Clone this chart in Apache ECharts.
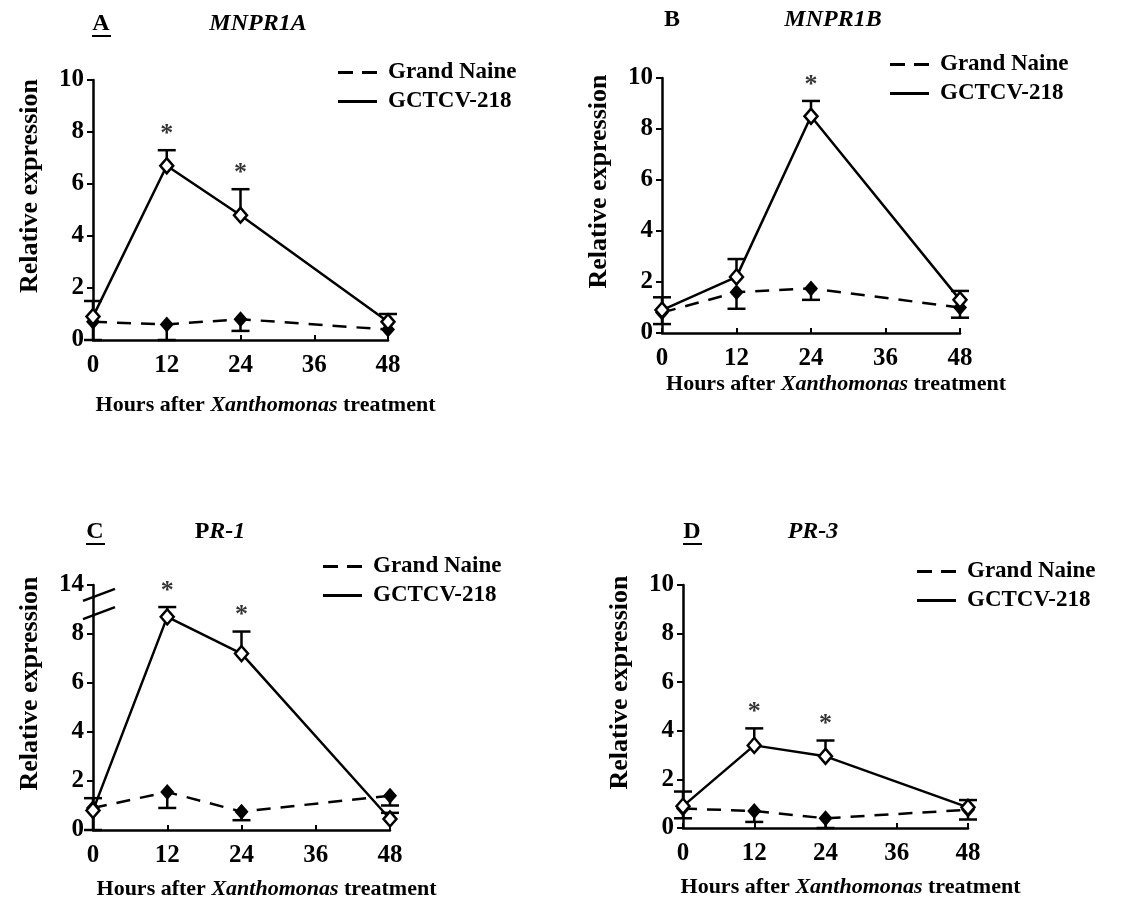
<!DOCTYPE html>
<html>
<head>
<meta charset="utf-8">
<script src="https://cdn.jsdelivr.net/npm/echarts@6/dist/echarts.min.js"></script>
<style>
html, body { margin: 0; padding: 0; background: #fff; }
#main { width: 1147px; height: 905px; }
</style>
</head>
<body>
<div id="main"></div>
<script>
// data (relative expression, hours after treatment)
var hours = [0, 12, 24, 48];

var naineA = [0.7, 0.6, 0.8, 0.4];
var naineLoA = [0, 0, 0.35, 0.4];
var gctcvA = [0.9, 6.7, 4.8, 0.7];
var gctcvHiA = [1.5, 7.3, 5.8, 1.0];
var sigA = [12, 24];

var naineB = [0.8, 1.6, 1.75, 1.0];
var naineLoB = [0.35, 0.95, 1.3, 0.6];
var gctcvB = [0.9, 2.2, 8.5, 1.3];
var gctcvHiB = [1.4, 2.9, 9.1, 1.65];
var sigB = [24];

// panel C uses a broken axis: top tick (10 on the drawn scale) reads 14
var naineC = [0.9, 1.55, 0.75, 1.4];
var naineLoC = [0, 0.9, 0.4, 1.0];
var gctcvC = [0.8, 8.7, 7.2, 0.45];
var gctcvHiC = [1.3, 9.1, 8.1, 0.7];
var sigC = [12, 24];

var naineD = [0.8, 0.7, 0.4, 0.75];
var naineLoD = [0.4, 0.25, 0, 0.35];
var gctcvD = [0.9, 3.4, 2.95, 0.85];
var gctcvHiD = [1.5, 4.1, 3.6, 1.15];
var sigD = [12, 24];

var FONT = "'Liberation Serif', 'Times New Roman', serif";

var panels = [
  { naine: naineA, lo: naineLoA, gc: gctcvA, hi: gctcvHiA, sig: sigA,
    grid: { left: 93, top: 80, width: 295, height: 260 }, xGap: 54, legend: [333, 56] },
  { naine: naineB, lo: naineLoB, gc: gctcvB, hi: gctcvHiB, sig: sigB,
    grid: { left: 662, top: 78, width: 298, height: 255 }, xGap: 40, legend: [885, 48] },
  { naine: naineC, lo: naineLoC, gc: gctcvC, hi: gctcvHiC, sig: sigC,
    grid: { left: 93, top: 585, width: 297, height: 245 }, xGap: 48, legend: [318, 550], broken: true },
  { naine: naineD, lo: naineLoD, gc: gctcvD, hi: gctcvHiD, sig: sigD,
    grid: { left: 683, top: 585, width: 285, height: 243 }, xGap: 48, legend: [912, 555] }
];

function zip(a, b) {
  return a.map(function (v, i) { return [v, b[i]]; });
}

function errData(vals, ends) {
  return hours.map(function (h, i) { return [h, vals[i], ends[i]]; });
}

function renderErr(params, api) {
  var p0 = api.coord([api.value(0), api.value(1)]);
  var p1 = api.coord([api.value(0), api.value(2)]);
  if (Math.abs(p1[1] - p0[1]) < 1) return;
  var st = { stroke: '#000', lineWidth: 2.5 };
  return {
    type: 'group',
    children: [
      { type: 'line', shape: { x1: p0[0], y1: p0[1], x2: p1[0], y2: p1[1] }, style: st },
      { type: 'line', shape: { x1: p1[0] - 9, y1: p1[1], x2: p1[0] + 9, y2: p1[1] }, style: st }
    ]
  };
}

// two slanted strokes across the y axis of panel C (axis break)
function renderBreak(params, api) {
  var p = api.coord([0, api.value(1)]);
  return {
    type: 'line',
    shape: { x1: p[0] - 10, y1: p[1] + 6, x2: p[0] + 22, y2: p[1] - 6 },
    style: { stroke: '#000', lineWidth: 2.5 }
  };
}

var dashIcon = 'path://M0,0h15v3h-15z M24,0h15v3h-15z';
var solidIcon = 'path://M0,0h39v3h-39z';

var grids = [], xAxes = [], yAxes = [], series = [], legends = [];

panels.forEach(function (p, i) {
  grids.push(p.grid);
  xAxes.push({
    type: 'value', gridIndex: i, min: 0, max: 48, interval: 12,
    name: 'Hours after {i|Xanthomonas} treatment',
    nameLocation: 'middle', nameGap: p.xGap,
    nameTextStyle: {
      color: '#000', fontFamily: FONT, fontWeight: 'bold', fontSize: 22, padding: [0, 0, 0, 50],
      rich: { i: { fontStyle: 'italic', fontWeight: 'bold', fontFamily: FONT, fontSize: 22, color: '#000' } }
    },
    axisLine: { lineStyle: { color: '#000', width: 2.5 } },
    axisTick: { inside: true, length: 5, lineStyle: { color: '#000', width: 2 } },
    axisLabel: { color: '#000', fontFamily: FONT, fontWeight: 'bold', fontSize: 25, margin: 13 },
    splitLine: { show: false }
  });
  yAxes.push({
    type: 'value', gridIndex: i, min: 0, max: 10, interval: 2,
    name: 'Relative expression',
    nameLocation: 'middle', nameGap: 50,
    nameTextStyle: {
      color: '#000', fontFamily: FONT, fontWeight: 'bold', fontSize: 26, padding: [0, 0, 0, 48]
    },
    axisLine: { show: true, lineStyle: { color: '#000', width: 2.5 } },
    axisTick: { show: true, length: 6, lineStyle: { color: '#000', width: 2 } },
    axisLabel: {
      color: '#000', fontFamily: FONT, fontWeight: 'bold', fontSize: 25, margin: 9,
      formatter: p.broken ? function (v) { return v === 10 ? '14' : v; } : '{value}'
    },
    splitLine: { show: false }
  });

  series.push({
    name: 'Grand Naine', type: 'line', xAxisIndex: i, yAxisIndex: i,
    data: zip(hours, p.naine),
    symbol: 'diamond', symbolSize: [14, 16],
    lineStyle: { color: '#000', width: 2.5, type: [14, 10] },
    itemStyle: { color: '#000' }, z: 4
  });
  series.push({
    name: 'GCTCV-218', type: 'line', xAxisIndex: i, yAxisIndex: i,
    data: zip(hours, p.gc),
    symbol: 'diamond', symbolSize: [13, 15],
    lineStyle: { color: '#000', width: 2.5 },
    itemStyle: { color: '#fff', borderColor: '#000', borderWidth: 2.5 }, z: 5
  });
  series.push({
    type: 'custom', xAxisIndex: i, yAxisIndex: i, renderItem: renderErr,
    encode: { x: 0, y: [1, 2] }, data: errData(p.naine, p.lo), z: 3, silent: true
  });
  series.push({
    type: 'custom', xAxisIndex: i, yAxisIndex: i, renderItem: renderErr,
    encode: { x: 0, y: [1, 2] }, data: errData(p.gc, p.hi), z: 3, silent: true
  });
  series.push({
    type: 'scatter', xAxisIndex: i, yAxisIndex: i,
    data: p.sig.map(function (h) { return [h, p.hi[hours.indexOf(h)]]; }),
    symbol: 'circle', symbolSize: 2, itemStyle: { color: 'rgba(0,0,0,0)' }, silent: true,
    label: {
      show: true, formatter: '*', position: 'top', distance: 2,
      color: '#000', fontFamily: FONT, fontWeight: 'bold', fontSize: 26
    }
  });
  if (p.broken) {
    series.push({
      type: 'custom', xAxisIndex: i, yAxisIndex: i, renderItem: renderBreak,
      data: [[0, 9.6], [0, 8.85]], silent: true, z: 6
    });
  }

  legends.push({
    orient: 'vertical', left: p.legend[0], top: p.legend[1],
    itemWidth: 39, itemHeight: 3, itemGap: 6, selectedMode: false,
    itemStyle: { color: '#000', borderWidth: 0 },
    textStyle: { color: '#000', fontFamily: FONT, fontWeight: 'bold', fontSize: 23, padding: [0, 0, 0, 6] },
    data: [{ name: 'Grand Naine', icon: dashIcon }, { name: 'GCTCV-218', icon: solidIcon }]
  });
});

// panel letters and gene names
function label(x, y, text, italic, underline) {
  var font = (italic ? 'italic ' : '') + 'bold 24px ' + FONT;
  var items = [{
    type: 'text', x: x, y: y,
    style: {
      text: text, font: font, fill: '#000', align: 'center', verticalAlign: 'middle',
      rich: { i: { font: 'italic bold 24px ' + FONT, fill: '#000' } }
    }
  }];
  if (underline) {
    items.push({ type: 'rect', shape: { x: x - 9, y: y + 11, width: 19, height: 2 }, style: { fill: '#000' } });
  }
  return items;
}

var graphics = [].concat(
  label(101, 24, 'A', false, true),
  label(258, 24, 'MNPR1A', true),
  label(672, 20, 'B', false, false),
  label(833, 20, 'MNPR1B', true),
  label(95, 532, 'C', false, true),
  label(220, 532, 'P{i|R-1}', false),
  label(692, 532, 'D', false, true),
  label(813, 532, 'PR-3', true)
);

var myChart = echarts.init(document.getElementById('main'));
var option = {
  backgroundColor: '#fff',
  animation: false,
  grid: grids,
  xAxis: xAxes,
  yAxis: yAxes,
  legend: legends,
  series: series,
  graphic: graphics
};
myChart.setOption(option);
</script>
</body>
</html>
